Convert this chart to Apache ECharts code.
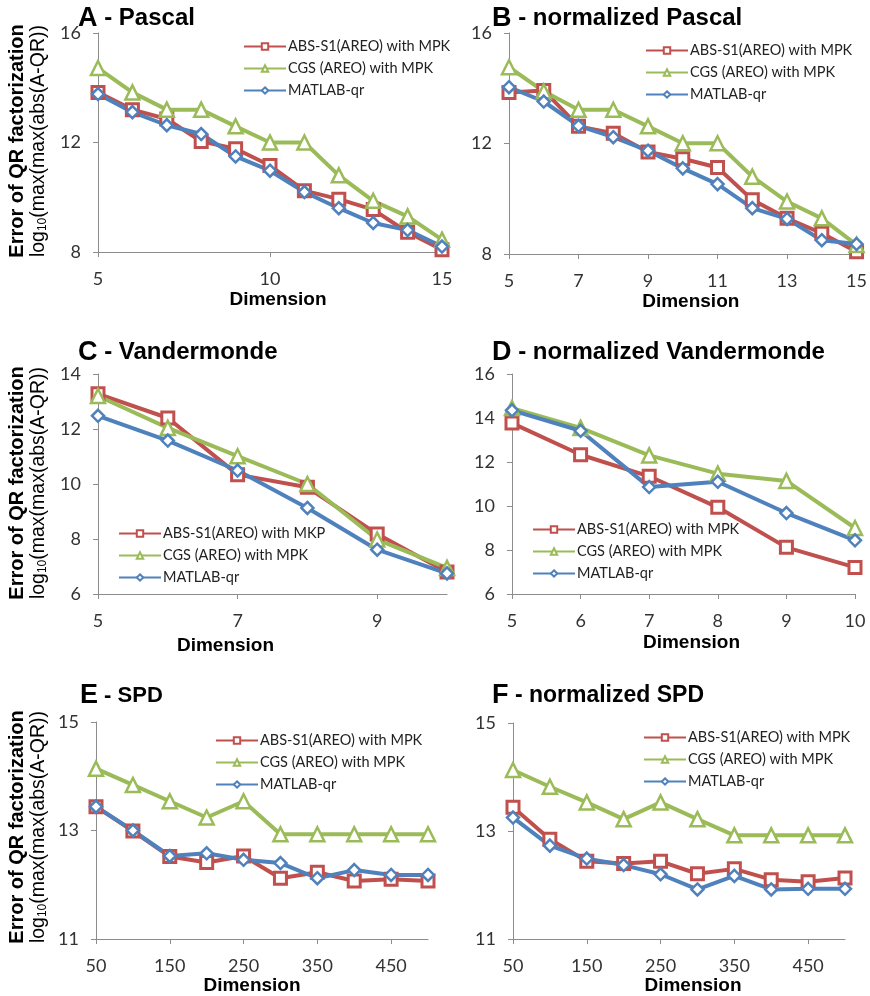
<!DOCTYPE html>
<html lang="en">
<head>
<meta charset="utf-8">
<title>QR factorization error</title>
<script src="https://cdn.jsdelivr.net/npm/echarts@6/dist/echarts.min.js"></script>
<style>
  html, body { margin: 0; padding: 0; background: #fff; }
  #main { width: 870px; height: 996px; }
</style>
</head>
<body>
<div id="main"></div>
<script type="text/javascript">
// x categories
var dimsPascal = ['5', '6', '7', '8', '9', '10', '11', '12', '13', '14', '15'];
var dimsVander = ['5', '6', '7', '8', '9', '10'];
var dimsSpd = ['50', '100', '150', '200', '250', '300', '350', '400', '450', '500'];

// A - Pascal
var absPascal  = [13.83, 13.2, 12.86, 12.04, 11.77, 11.16, 10.24, 9.93, 9.55, 8.72, 8.08];
var cgsPascal  = [14.72, 13.83, 13.2, 13.2, 12.59, 12.0, 12.0, 10.8, 9.87, 9.3, 8.45];
var qrPascal   = [13.77, 13.11, 12.63, 12.31, 11.49, 10.97, 10.19, 9.6, 9.06, 8.8, 8.2];
// B - normalized Pascal
var absNPascal = [13.85, 13.92, 12.62, 12.37, 11.69, 11.45, 11.13, 9.96, 9.29, 8.75, 8.08];
var cgsNPascal = [14.76, 13.89, 13.22, 13.22, 12.62, 12.01, 12.01, 10.8, 9.9, 9.29, 8.33];
var qrNPascal  = [14.04, 13.52, 12.64, 12.23, 11.74, 11.1, 10.53, 9.66, 9.27, 8.5, 8.36];
// C - Vandermonde
var absVander  = [13.28, 12.4, 10.34, 9.88, 8.18, 6.8];
var cgsVander  = [13.2, 12.04, 11.01, 10.0, 7.98, 6.95];
var qrVander   = [12.48, 11.58, 10.49, 9.13, 7.61, 6.75];
// D - normalized Vandermonde
var absNVander = [13.77, 12.33, 11.35, 9.94, 8.12, 7.21];
var cgsNVander = [14.45, 13.55, 12.3, 11.47, 11.14, 9.0];
var qrNVander  = [14.35, 13.42, 10.86, 11.1, 9.68, 8.44];
// E - SPD
var absSpd  = [13.44, 12.99, 12.52, 12.41, 12.53, 12.12, 12.23, 12.07, 12.1, 12.07];
var cgsSpd  = [14.14, 13.84, 13.54, 13.24, 13.54, 12.93, 12.93, 12.93, 12.93, 12.93];
var qrSpd   = [13.44, 13.0, 12.53, 12.58, 12.46, 12.4, 12.12, 12.27, 12.18, 12.18];
// F - normalized SPD
var absNSpd = [13.44, 12.85, 12.44, 12.4, 12.44, 12.21, 12.3, 12.1, 12.06, 12.13];
var cgsNSpd = [14.13, 13.82, 13.53, 13.22, 13.53, 13.22, 12.92, 12.92, 12.92, 12.92];
var qrNSpd  = [13.25, 12.73, 12.49, 12.37, 12.2, 11.92, 12.17, 11.92, 11.93, 11.93];

var NAME_ABS = 'ABS-S1(AREO) with MPK';
var NAME_ABS_C = 'ABS-S1(AREO) with MKP';
var NAME_CGS = 'CGS (AREO) with MPK';
var NAME_QR = 'MATLAB-qr';

var RED = '#C0504D', GREEN = '#9BBB59', BLUE = '#4F81BD';
var AXIS_GRAY = '#8C8C8C';
var TICK_FONT = 'Lato';
var BOLD_FONT = 'Liberation Sans';

// panel layout
var panels = [
  { letter: 'A', title: ' - Pascal', sub: 24, grid: [98, 33, 344, 219], cats: dimsPascal, xInt: 4,
    y: [8, 16, 4], data: [absPascal, cgsPascal, qrPascal], absName: NAME_ABS,
    legend: [243, 39], titlePos: [78, 5], dimOff: 8, dimGap: 38 },
  { letter: 'B', title: ' - normalized Pascal', sub: 24, grid: [509, 33, 351, 221], cats: dimsPascal, xInt: 1,
    y: [8, 16, 4], data: [absNPascal, cgsNPascal, qrNPascal], absName: NAME_ABS,
    legend: [645, 43], titlePos: [492, 5], dimOff: 8, dimGap: 38 },
  { letter: 'C', title: ' - Vandermonde', sub: 24, grid: [98, 374, 349, 220], cats: dimsVander, xInt: 1,
    y: [6, 14, 2], data: [absVander, cgsVander, qrVander], absName: NAME_ABS_C,
    legend: [118, 526], titlePos: [78, 339], dimOff: -47, dimGap: 42 },
  { letter: 'D', title: ' - normalized Vandermonde', sub: 24, grid: [512, 374, 343, 220], cats: dimsVander, xInt: 0,
    y: [6, 16, 2], data: [absNVander, cgsNVander, qrNVander], absName: NAME_ABS,
    legend: [532, 522], titlePos: [492, 339], dimOff: 8, dimGap: 39 },
  { letter: 'E', title: ' - SPD', sub: 22, grid: [96, 722, 332, 217], cats: dimsSpd, xInt: 1,
    y: [11, 15, 2], data: [absSpd, cgsSpd, qrSpd], absName: NAME_ABS,
    legend: [215, 733], titlePos: [80, 682], dimOff: -10, dimGap: 34 },
  { letter: 'F', title: ' - normalized SPD', sub: 23, grid: [513, 723, 332, 217], cats: dimsSpd, xInt: 1,
    y: [11, 15, 2], data: [absNSpd, cgsNSpd, qrNSpd], absName: NAME_ABS,
    legend: [643, 730], titlePos: [492, 682], dimOff: 14, dimGap: 32 }
];

var option = {
  backgroundColor: '#fff',
  animation: false,
  title: [], grid: [], xAxis: [], yAxis: [], legend: [], series: [], graphic: []
};

panels.forEach(function (p, i) {
  option.title.push({
    left: p.titlePos[0], top: p.titlePos[1], padding: 0,
    text: '{l|' + p.letter + '}{t|' + p.title + '}',
    textStyle: {
      rich: {
        l: { fontFamily: BOLD_FONT, fontWeight: 'bold', fontSize: 27, color: '#000' },
        t: { fontFamily: BOLD_FONT, fontWeight: 'bold', fontSize: p.sub, color: '#000' }
      }
    }
  });
  option.grid.push({ left: p.grid[0], top: p.grid[1], width: p.grid[2], height: p.grid[3] });
  var pad = p.dimOff >= 0 ? [0, 0, 0, 2 * p.dimOff] : [0, -2 * p.dimOff, 0, 0];
  option.xAxis.push({
    gridIndex: i, type: 'category', boundaryGap: false, data: p.cats,
    name: 'Dimension', nameLocation: 'middle', nameGap: p.dimGap,
    nameTextStyle: { fontFamily: BOLD_FONT, fontWeight: 'bold', fontSize: 19, color: '#000', padding: pad },
    axisLine: { lineStyle: { color: AXIS_GRAY, width: 1 } },
    axisTick: { show: true, interval: p.xInt, length: 5, lineStyle: { color: AXIS_GRAY } },
    axisLabel: { interval: p.xInt, margin: 18, fontFamily: TICK_FONT, fontSize: 18, color: '#333' },
    splitLine: { show: false }
  });
  option.yAxis.push({
    gridIndex: i, type: 'value', min: p.y[0], max: p.y[1], interval: p.y[2],
    axisLine: { show: true, lineStyle: { color: AXIS_GRAY, width: 1 } },
    axisTick: { show: true, length: 5, lineStyle: { color: AXIS_GRAY } },
    axisLabel: { margin: 17, fontFamily: TICK_FONT, fontSize: 18, color: '#333' },
    splitLine: { show: false }
  });
  var names = [p.absName, NAME_CGS, NAME_QR];
  option.legend.push({
    left: p.legend[0], top: p.legend[1], orient: 'vertical', padding: 0,
    itemWidth: 42, itemHeight: 8, itemGap: 7, selectedMode: false,
    data: names,
    textStyle: { fontFamily: TICK_FONT, fontSize: 14.5, color: '#222', padding: [0, 0, 0, -3] }
  });
  var styles = [
    { color: RED, symbol: 'rect', size: 12, bw: 3 },
    { color: GREEN, symbol: 'triangle', size: 14, bw: 2.5 },
    { color: BLUE, symbol: 'diamond', size: 12, bw: 2.5 }
  ];
  styles.forEach(function (s, k) {
    option.series.push({
      type: 'line', name: names[k], xAxisIndex: i, yAxisIndex: i,
      data: p.data[k],
      symbol: s.symbol, symbolSize: s.size, showAllSymbol: true,
      lineStyle: { color: s.color, width: 4 },
      itemStyle: { color: '#fff', borderColor: s.color, borderWidth: s.bw }
    });
  });
});

// shared y axis names on the left column
[141, 483, 827].forEach(function (cy) {
  option.graphic.push({
    type: 'text', x: 28, y: cy, rotation: Math.PI / 2,
    style: {
      text: '{b|Error of QR factorization}\n{n|log}{s|10}{n|(max(max(abs(A-QR))}',
      align: 'center', verticalAlign: 'middle',
      rich: {
        b: { fontFamily: BOLD_FONT, fontWeight: 'bold', fontSize: 20, lineHeight: 21, fill: '#000' },
        n: { fontFamily: BOLD_FONT, fontSize: 19.5, lineHeight: 21, fill: '#000' },
        s: { fontFamily: BOLD_FONT, fontSize: 12, lineHeight: 21, fill: '#000', padding: [9, 0, 0, 0] }
      }
    }
  });
});

var chart = echarts.init(document.getElementById('main'));
chart.setOption(option);
</script>
</body>
</html>
